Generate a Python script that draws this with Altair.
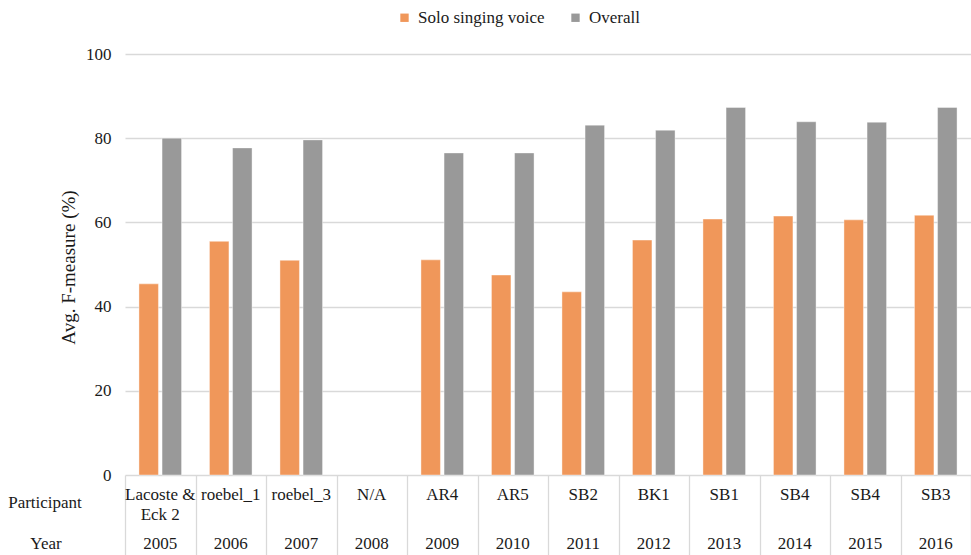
import altair as alt
import pandas as pd

# Singing-voice vs overall F-measure per MIREX year and best participant
years = ["2005", "2006", "2007", "2008", "2009", "2010",
         "2011", "2012", "2013", "2014", "2015", "2016"]
participants = ["Lacoste &\nEck 2", "roebel_1", "roebel_3", "N/A", "AR4", "AR5",
                "SB2", "BK1", "SB1", "SB4", "SB4", "SB3"]
solo = [45.4, 55.5, 51.0, None, 51.1, 47.5, 43.5, 55.8, 60.8, 61.5, 60.6, 61.7]
overall = [80.0, 77.7, 79.6, None, 76.5, 76.5, 83.1, 81.9, 87.3, 83.9, 83.8, 87.3]

series_names = ["Solo singing voice", "Overall"]
series_colors = ["#F0975A", "#999999"]

rows = []
for yr, s, o in zip(years, solo, overall):
    if s is not None:
        rows.append({"year": yr, "series": series_names[0], "value": s})
    if o is not None:
        rows.append({"year": yr, "series": series_names[1], "value": o})
bars_df = pd.DataFrame(rows)
labels_df = pd.DataFrame({"year": years, "participant": participants})

FONT = "Liberation Serif"
TEXT = "#1a1a1a"
FS = 17
W, H = 846, 421

x_scale = alt.Scale(domain=years, paddingInner=0, paddingOuter=0)

bars = alt.Chart(bars_df).mark_bar(
    stroke="white", strokeWidth=0.8, strokeOpacity=0.5
).encode(
    x=alt.X("year:N", scale=x_scale,
            axis=alt.Axis(title=None, labels=False, domain=False,
                          tickBand="extent", tickSize=80,
                          tickColor="#d9d9d9", tickWidth=1.3)),
    xOffset=alt.XOffset("series:N", sort=series_names,
                        scale=alt.Scale(paddingInner=0.156, paddingOuter=0.604)),
    y=alt.Y("value:Q", scale=alt.Scale(domain=[0, 100], nice=False),
            axis=alt.Axis(values=[0, 20, 40, 60, 80, 100],
                          title="Avg. F-measure (%)", titleY=213)),
    color=alt.Color("series:N", sort=series_names,
                    scale=alt.Scale(domain=series_names, range=series_colors),
                    legend=alt.Legend(orient="none", legendX=271, legendY=-45,
                                      direction="horizontal", title=None,
                                      symbolType="square", symbolSize=70,
                                      symbolStrokeWidth=0, symbolOpacity=1,
                                      labelFont=FONT, labelFontSize=FS,
                                      labelColor=TEXT, columnPadding=22,
                                      labelOffset=5)),
)

participant_text = alt.Chart(labels_df).mark_text(
    lineBreak="\n", baseline="top", font=FONT, fontSize=FS, color=TEXT,
    lineHeight=20
).encode(
    x=alt.X("year:N", scale=x_scale),
    y=alt.value(H + 12),
    text="participant:N",
)

year_text = alt.Chart(labels_df).mark_text(
    baseline="middle", font=FONT, fontSize=FS, color=TEXT
).encode(
    x=alt.X("year:N", scale=x_scale),
    y=alt.value(H + 69),
    text="year:N",
)

row_head_1 = alt.Chart(pd.DataFrame({"t": ["Participant"]})).mark_text(
    baseline="middle", font=FONT, fontSize=FS, color=TEXT
).encode(x=alt.value(-80), y=alt.value(H + 28), text="t:N")

row_head_2 = alt.Chart(pd.DataFrame({"t": ["Year"]})).mark_text(
    baseline="middle", font=FONT, fontSize=FS, color=TEXT
).encode(x=alt.value(-79), y=alt.value(H + 69), text="t:N")

chart = alt.layer(
    bars, participant_text, year_text, row_head_1, row_head_2
).properties(
    width=W, height=H,
    padding={"left": 125, "top": 54, "right": 0, "bottom": 80},
    autosize=alt.AutoSizeParams(type="none"),
).configure_view(
    stroke=None
).configure_axisY(
    domain=False, ticks=False, grid=True, gridColor="#d9d9d9", gridWidth=1.5,
    labelFont=FONT, labelFontSize=FS, labelColor=TEXT, labelPadding=14,
    titleFont=FONT, titleFontSize=19, titleFontWeight="normal",
    titleColor=TEXT, titlePadding=7,
).configure_axisX(
    grid=False
)

chart.save("out.html", embed_options={"renderer": "svg", "actions": False})
